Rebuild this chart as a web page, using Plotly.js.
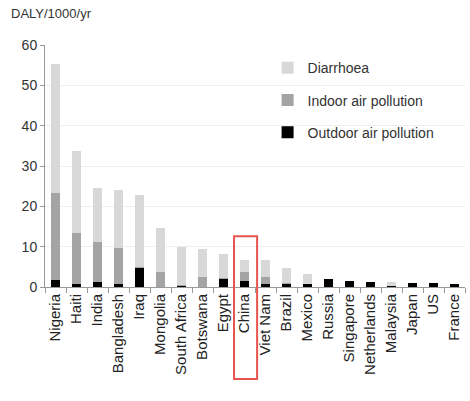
<!DOCTYPE html>
<html>
<head>
<meta charset="utf-8">
<script src="https://cdn.plot.ly/plotly-3.0.1.min.js"></script>
<style>html,body{margin:0;padding:0;background:#fff;}#chart{width:470px;height:401px;}</style>
</head>
<body>
<div id="chart"></div>
<script>
const countries = ["Nigeria","Haiti","India","Bangladesh","Iraq","Mongolia","South Africa","Botswana","Egypt","China","Viet Nam","Brazil","Mexico","Russia","Singapore","Netherlands","Malaysia","Japan","US","France"];
const outdoor  = [1.8, 0.7, 1.2, 0.7, 4.6, 0.0, 0.2, 0.1, 2.1, 1.5, 0.8, 0.8, 0.7, 2.0, 1.5, 1.25, 0.2, 0.9, 1.0, 0.7];
const indoor   = [21.6, 12.7, 10.05, 9.05, 0.3, 3.8, 0.3, 2.5, 0.1, 2.3, 1.7, 0.1, 0.1, 0.0, 0.0, 0.0, 0.0, 0.0, 0.0, 0.0];
const diarrhoea= [31.9, 20.4, 13.25, 14.25, 17.8, 10.8, 9.3, 6.7, 6.0, 3.0, 4.2, 3.9, 2.4, 0.1, 0.0, 0.0, 1.1, 0.0, 0.0, 0.0];
const yTicks = [0, 10, 20, 30, 40, 50, 60];
const highlight = "China";

const font = "Liberation Sans, Arial, sans-serif";
const traces = [
  {name: "Outdoor air pollution", y: outdoor, color: "#000000", g: "c", r: 3},
  {name: "Indoor air pollution", y: indoor, color: "#a4a4a4", g: "b", r: 2},
  {name: "Diarrhoea", y: diarrhoea, color: "#d8d8d8", g: "a", r: 1}
].map(t => ({
  type: "bar", x: countries, y: t.y, name: t.name, legendgroup: t.g, legendrank: t.r,
  marker: {color: t.color, line: {width: 0}}, hoverinfo: "skip"
}));

const hi = countries.indexOf(highlight);
const layout = {
  width: 470, height: 401,
  margin: {l: 45, r: 5, t: 45, b: 114},
  paper_bgcolor: "#fff", plot_bgcolor: "#fff",
  barmode: "stack", bargap: 0.57,
  showlegend: true,
  legend: {x: 0.53, y: 0.97, xanchor: "left", yanchor: "top",
    traceorder: "grouped", tracegroupgap: 11,
    font: {family: font, size: 14, color: "#333"}, bgcolor: "rgba(0,0,0,0)",
    itemwidth: 30},
  xaxis: {type: "category", tickson: "boundaries", ticks: "outside", ticklen: 5,
    tickcolor: "#999", showline: true, linecolor: "#999", linewidth: 1,
    tickangle: -90, tickfont: {family: font, size: 15, color: "#222"},
    showgrid: false, fixedrange: true},
  yaxis: {range: [0, 60], tickvals: yTicks, ticks: "outside", ticklen: 4,
    tickcolor: "#999", showline: true, linecolor: "#999", linewidth: 1,
    showgrid: true, gridcolor: "#eeeeee", zeroline: false,
    tickfont: {family: font, size: 14, color: "#333"}, fixedrange: true},
  annotations: [{text: "DALY/1000/yr", xref: "paper", yref: "paper", x: -0.085, y: 1.13,
    xanchor: "left", yanchor: "middle", showarrow: false,
    font: {family: font, size: 13, color: "#333"}}],
  shapes: [{type: "rect", xref: "x", yref: "paper", x0: hi - 0.5, x1: hi + 0.6,
    y0: -0.38, y1: 0.21, line: {color: "#e8554e", width: 2}, fillcolor: "rgba(0,0,0,0)"}]
};
Plotly.newPlot("chart", traces, layout, {displayModeBar: false, staticPlot: true});
</script>
</body>
</html>
